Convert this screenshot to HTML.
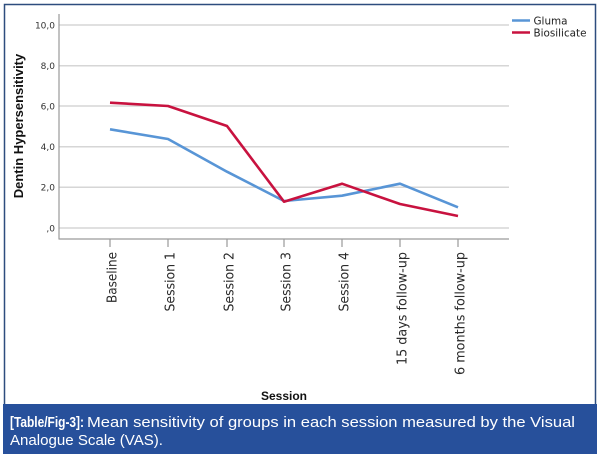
<!DOCTYPE html>
<html><head><meta charset="utf-8"><style>
html,body{margin:0;padding:0;background:#fff;}
svg{display:block;}
</style></head><body>
<svg width="600" height="459" viewBox="0 0 600 459" xmlns="http://www.w3.org/2000/svg">
<rect x="0" y="0" width="600" height="459" fill="#fff"/>
<rect x="4.5" y="4.5" width="591" height="410" fill="#fff" stroke="#2d4d7e" stroke-width="1.5"/>
<!-- gridlines -->
<g stroke="#d6d6d6" stroke-width="1.5">
<line x1="59" y1="25" x2="509" y2="25"/>
<line x1="59" y1="65.7" x2="509" y2="65.7"/>
<line x1="59" y1="106" x2="509" y2="106"/>
<line x1="59" y1="146.7" x2="509" y2="146.7"/>
<line x1="59" y1="187.3" x2="509" y2="187.3"/>
<line x1="59" y1="228" x2="509" y2="228"/>
</g>
<!-- axes -->
<g stroke="#9a9a9a" stroke-width="1.2">
<line x1="59" y1="14" x2="59" y2="239.5"/>
<line x1="59" y1="239" x2="509" y2="239"/>
<line x1="110" y1="239" x2="110" y2="247"/>
<line x1="168" y1="239" x2="168" y2="247"/>
<line x1="227" y1="239" x2="227" y2="247"/>
<line x1="284" y1="239" x2="284" y2="247"/>
<line x1="342" y1="239" x2="342" y2="247"/>
<line x1="400" y1="239" x2="400" y2="247"/>
<line x1="458" y1="239" x2="458" y2="247"/>
</g>
<!-- y tick labels -->
<g font-family="'DejaVu Sans', sans-serif" font-size="9" fill="#333" text-anchor="end">
<text x="55" y="28.3">10,0</text>
<text x="55" y="69">8,0</text>
<text x="55" y="109.3">6,0</text>
<text x="55" y="150">4,0</text>
<text x="55" y="190.6">2,0</text>
<text x="55" y="231.3">,0</text>
</g>
<!-- y title -->
<text transform="translate(23,126) rotate(-90)" text-anchor="middle" font-family="'Liberation Sans', sans-serif" font-weight="bold" font-size="13" fill="#111">Dentin Hypersensitivity</text>
<!-- x tick labels -->
<g font-family="'DejaVu Sans', sans-serif" font-size="13" fill="#2a2a2a" text-anchor="end">
<text transform="translate(116.5,252) rotate(-90)" textLength="51" lengthAdjust="spacingAndGlyphs">Baseline</text>
<text transform="translate(174.5,252) rotate(-90)" textLength="59.5" lengthAdjust="spacingAndGlyphs">Session 1</text>
<text transform="translate(233.5,252) rotate(-90)" textLength="59.5" lengthAdjust="spacingAndGlyphs">Session 2</text>
<text transform="translate(290.5,252) rotate(-90)" textLength="59.5" lengthAdjust="spacingAndGlyphs">Session 3</text>
<text transform="translate(348.5,252) rotate(-90)" textLength="59.5" lengthAdjust="spacingAndGlyphs">Session 4</text>
<text transform="translate(406.5,252) rotate(-90)" textLength="113" lengthAdjust="spacingAndGlyphs">15 days follow-up</text>
<text transform="translate(464.5,252) rotate(-90)" textLength="123" lengthAdjust="spacingAndGlyphs">6 months follow-up</text>
</g>
<!-- x title -->
<text x="284" y="400" text-anchor="middle" font-family="'Liberation Sans', sans-serif" font-weight="bold" font-size="12" fill="#111">Session</text>
<!-- series -->
<polyline fill="none" stroke="#5895d6" stroke-width="2.6" stroke-linejoin="round" points="110,129.3 168,139 227,171.7 284,201 342,195.7 400,183.7 458,207.3"/>
<polyline fill="none" stroke="#c8123f" stroke-width="2.6" stroke-linejoin="round" points="110,102.7 168,106 227,126 284,201.7 342,183.7 400,204 458,216"/>
<!-- legend -->
<line x1="512" y1="20.5" x2="530" y2="20.5" stroke="#5895d6" stroke-width="2.6"/>
<line x1="512" y1="32.5" x2="530" y2="32.5" stroke="#c8123f" stroke-width="2.6"/>
<g font-family="'DejaVu Sans', sans-serif" font-size="10.4" fill="#222">
<text x="533.5" y="24.5">Gluma</text>
<text x="533.5" y="36.5">Biosilicate</text>
</g>
<!-- caption -->
<rect x="3" y="404" width="594" height="50" fill="#27509b"/>
<g font-family="'Liberation Sans', sans-serif" font-size="15" fill="#fff">
<text x="10" y="427" font-weight="bold" textLength="74" lengthAdjust="spacingAndGlyphs">[Table/Fig-3]:</text>
<text x="87" y="427" textLength="488" lengthAdjust="spacingAndGlyphs">Mean sensitivity of groups in each session measured by the Visual</text>
<text x="10" y="445" textLength="153" lengthAdjust="spacingAndGlyphs">Analogue Scale (VAS).</text>
</g>
</svg>
</body></html>
